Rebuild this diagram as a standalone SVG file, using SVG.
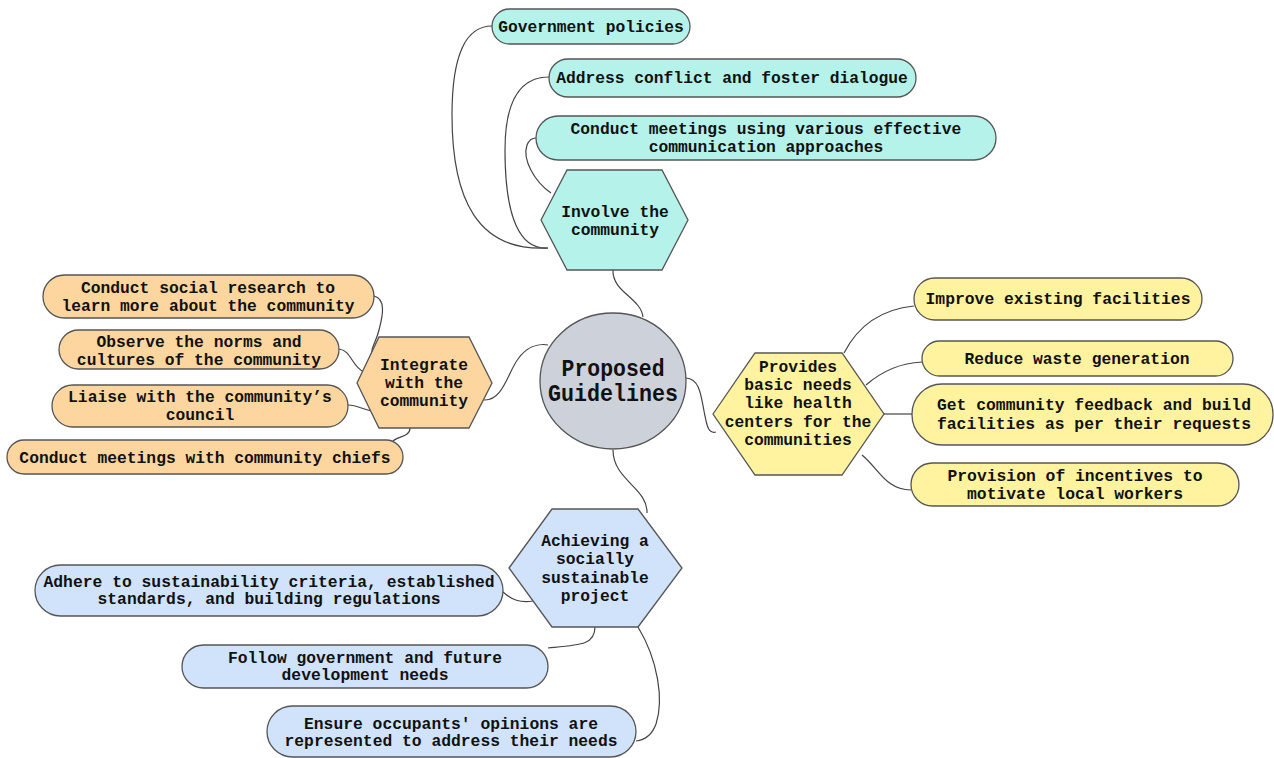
<svg xmlns="http://www.w3.org/2000/svg" width="1274" height="758" viewBox="0 0 1274 758">
<style>
.n{stroke:#555;stroke-width:1.3}
.teal{fill:#b4f2ea}
.orange{fill:#fdd69f}
.yellow{fill:#fff39f}
.blue{fill:#d0e3fb}
.gray{fill:#cdd1d9}
text{font-family:"Liberation Mono","DejaVu Sans Mono",monospace;font-weight:bold;fill:#111;text-anchor:middle}
.t{font-size:16.3px}
.c{font-size:17.2px}
.big{font-size:24px}
.edges path{fill:none;stroke:#444;stroke-width:1.2}
</style>
<rect width="1274" height="758" fill="#fff"/>
<g class="edges" id="connectors">
<path d="M613,270 C612,292 641,298 643,317"/>
<path d="M548,248 C478,252 452,200 452,115 C452,50 468,26 492,26"/>
<path d="M548,248 C520,250 505,218 505,150 C505,98 522,77 549,77"/>
<path d="M551,193 C535,182 522,160 527,145 C529,140 532,138 536,138"/>
<path d="M484,400 C503,401 508,372 518,359 C526,348 537,343 548,345"/>
<path d="M374,296 C386,299 383,315 379,330 C376,343 369,350 373,357"/>
<path d="M339,349 C351,350 352,367 364,372"/>
<path d="M348,405 C360,405 364,412 377,411"/>
<path d="M410,428 C410,437 398,436 393,441"/>
<path d="M686,378 C700,379 701,396 704,411 C707,426 708,434 716,432"/>
<path d="M844,353 C860,322 884,309 914,306"/>
<path d="M866,385 C881,372 900,363 922,362"/>
<path d="M884,414 L912,414"/>
<path d="M862,455 C879,469 886,490 911,490"/>
<path d="M613,450 C613,480 648,488 647,513"/>
<path d="M503,592 C512,600 520,603 533,601"/>
<path d="M595,627 C595,645 580,645 548,648"/>
<path d="M638,627 C658,660 664,700 656,724 C652,735 645,740 636,741"/>
</g>
<g id="center">
<ellipse class="n gray" cx="613" cy="381" rx="73" ry="68"/>
<text class="big" x="613" y="376" textLength="103" lengthAdjust="spacingAndGlyphs">Proposed</text>
<text class="big" x="613" y="401" textLength="130" lengthAdjust="spacingAndGlyphs">Guidelines</text>
</g>
<g id="involve">
<polygon class="n teal" points="541,220 567,170 662,170 688,220 662,270 567,270"/>
<text class="t" x="615" y="217">Involve the</text>
<text class="t" x="615" y="235">community</text>
</g>
<g id="gov">
<rect class="n teal" x="492" y="9" width="198" height="35" rx="17.5"/>
<text class="t" x="591" y="32">Government policies</text>
</g>
<g id="address">
<rect class="n teal" x="549" y="59" width="367" height="38" rx="19"/>
<text class="t" x="732" y="83">Address conflict and foster dialogue</text>
</g>
<g id="conduct-meetings">
<rect class="n teal" x="536" y="116" width="460" height="44" rx="22"/>
<text class="t" x="766" y="134">Conduct meetings using various effective</text>
<text class="t" x="766" y="152">communication approaches</text>
</g>
<g id="integrate">
<polygon class="n orange" points="357,383 379,337 469,337 492,383 469,428 379,428"/>
<text class="t" x="424" y="370">Integrate</text>
<text class="t" x="424" y="388">with the</text>
<text class="t" x="424" y="406">community</text>
</g>
<g id="social-research">
<rect class="n orange" x="43" y="275" width="331" height="43" rx="21.5"/>
<text class="t" x="208" y="293">Conduct social research to</text>
<text class="t" x="208" y="311">learn more about the community</text>
</g>
<g id="observe">
<rect class="n orange" x="59" y="330" width="280" height="39" rx="19.5"/>
<text class="t" x="199" y="347">Observe the norms and</text>
<text class="t" x="199" y="365">cultures of the community</text>
</g>
<g id="liaise">
<rect class="n orange" x="52" y="385" width="296" height="42" rx="21"/>
<text class="t" x="200" y="402">Liaise with the community’s</text>
<text class="t" x="200" y="420">council</text>
</g>
<g id="chiefs">
<rect class="n orange" x="7" y="440" width="396" height="34" rx="17"/>
<text class="t" x="205" y="463">Conduct meetings with community chiefs</text>
</g>
<g id="provides">
<polygon class="n yellow" points="713,414 755,353 842,353 884,414 842,475 755,475"/>
<text class="t" x="798" y="372">Provides</text>
<text class="t" x="798" y="390">basic needs</text>
<text class="t" x="798" y="408">like health</text>
<text class="t" x="798" y="427">centers for the</text>
<text class="t" x="798" y="445">communities</text>
</g>
<g id="improve">
<rect class="n yellow" x="914" y="278" width="288" height="42" rx="21"/>
<text class="c" x="1058" y="304" textLength="265" lengthAdjust="spacingAndGlyphs">Improve existing facilities</text>
</g>
<g id="reduce">
<rect class="n yellow" x="922" y="341" width="311" height="35" rx="17.5"/>
<text class="c" x="1077" y="364" textLength="225" lengthAdjust="spacingAndGlyphs">Reduce waste generation</text>
</g>
<g id="feedback">
<rect class="n yellow" x="912" y="384" width="361" height="61" rx="30"/>
<text class="c" x="1094" y="410" textLength="314" lengthAdjust="spacingAndGlyphs">Get community feedback and build</text>
<text class="c" x="1094" y="429" textLength="314" lengthAdjust="spacingAndGlyphs">facilities as per their requests</text>
</g>
<g id="incentives">
<rect class="n yellow" x="911" y="463" width="328" height="43" rx="21.5"/>
<text class="c" x="1075" y="481" textLength="255" lengthAdjust="spacingAndGlyphs">Provision of incentives to</text>
<text class="c" x="1075" y="499" textLength="216" lengthAdjust="spacingAndGlyphs">motivate local workers</text>
</g>
<g id="achieving">
<polygon class="n blue" points="509,568 552,509 638,509 682,568 638,627 552,627"/>
<text class="t" x="595" y="546">Achieving a</text>
<text class="t" x="595" y="564">socially</text>
<text class="t" x="595" y="583">sustainable</text>
<text class="t" x="595" y="601">project</text>
</g>
<g id="adhere">
<rect class="n blue" x="35" y="565" width="468" height="51" rx="25.5"/>
<text class="c" x="269" y="587" textLength="451" lengthAdjust="spacingAndGlyphs">Adhere to sustainability criteria, established</text>
<text class="c" x="269" y="604" textLength="343" lengthAdjust="spacingAndGlyphs">standards, and building regulations</text>
</g>
<g id="follow">
<rect class="n blue" x="182" y="645" width="366" height="43" rx="21.5"/>
<text class="c" x="365" y="663" textLength="274" lengthAdjust="spacingAndGlyphs">Follow government and future</text>
<text class="c" x="365" y="680" textLength="167" lengthAdjust="spacingAndGlyphs">development needs</text>
</g>
<g id="ensure">
<rect class="n blue" x="267" y="706" width="369" height="51" rx="25.5"/>
<text class="c" x="451" y="729" textLength="294" lengthAdjust="spacingAndGlyphs">Ensure occupants' opinions are</text>
<text class="c" x="451" y="746" textLength="333" lengthAdjust="spacingAndGlyphs">represented to address their needs</text>
</g>
</svg>
